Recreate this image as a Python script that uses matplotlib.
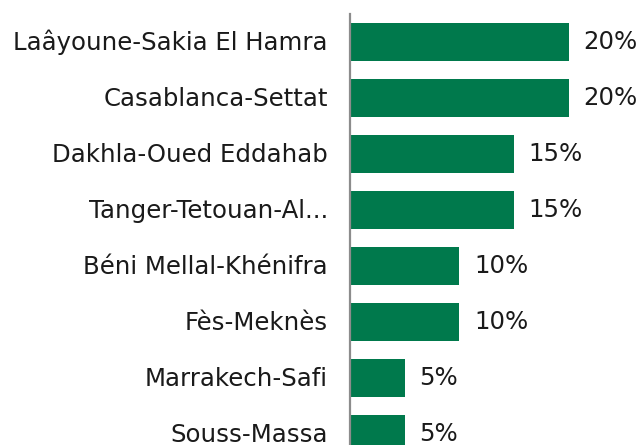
import matplotlib
matplotlib.use("Agg")
import matplotlib.pyplot as plt
import matplotlib.transforms as mtransforms

categories = ["Laâyoune-Sakia El Hamra", "Casablanca-Settat", "Dakhla-Oued Eddahab",
              "Tanger-Tetouan-Al...", "Béni Mellal-Khénifra", "Fès-Meknès",
              "Marrakech-Safi", "Souss-Massa"]
values = [20, 20, 15, 15, 10, 10, 5, 5]
value_labels = ["20%", "20%", "15%", "15%", "10%", "10%", "5%", "5%"]

plt.rcParams['font.family'] = ['DejaVu Sans']
W, H = 642, 445
fig = plt.figure(figsize=(W/100, H/100), dpi=100)
ax = fig.add_axes([350/W, 0, 1 - 350/W, 431/H])

y = list(range(len(categories)))
ax.barh(y, values, height=0.67, color="#00794C")
ax.set_xlim(0, 292/10.95)
ax.set_ylim(7.196, -0.5)
ax.set_yticks(y)
ax.set_yticklabels(categories, fontsize=17.6, color="#1a1a1a")
ax.tick_params(axis='y', length=0, pad=16)
shift = mtransforms.ScaledTranslation(0, 2/100, fig.dpi_scale_trans)
for t in ax.get_yticklabels():
    t.set_transform(t.get_transform() + shift)
ax.set_xticks([])
for s in ["top", "right", "bottom"]:
    ax.spines[s].set_visible(False)
ax.spines["left"].set_color("#8c8c8c")
ax.spines["left"].set_linewidth(1.6)
for yi, v, lab in zip(y, values, value_labels):
    ax.annotate(lab, (v, yi), xytext=(10.5, 0), textcoords="offset points",
                va="center", ha="left", fontsize=17.6, color="#1a1a1a")
fig.savefig("out.png", dpi=100)
